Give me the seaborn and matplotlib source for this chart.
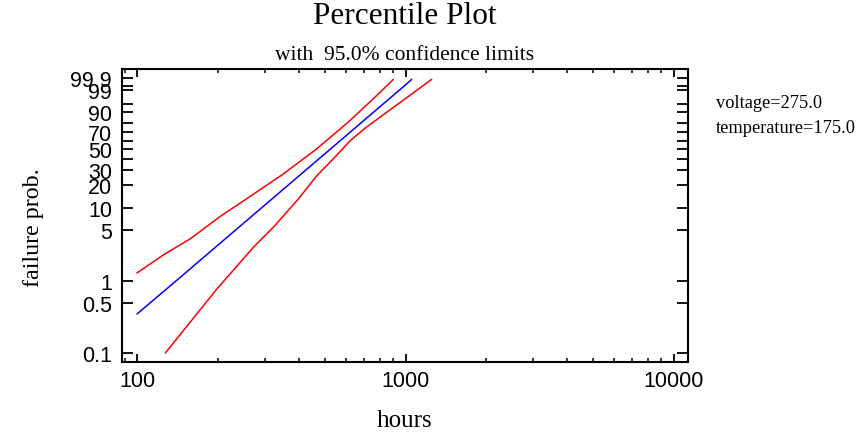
import numpy as np
import pandas as pd
import matplotlib
matplotlib.use("Agg")
import matplotlib.pyplot as plt
import seaborn as sns
from matplotlib.ticker import FixedLocator, FixedFormatter, NullFormatter, LogLocator

# ---- data (hours, failure probability in %) ----
upper_hours = [99.7, 125.0, 157.5, 203.8, 263.6, 350.7, 467, 621.4, 781, 901]
upper_pct = [1.30, 2.31, 3.84, 7.74, 14.2, 27.1, 50.7, 82.7, 98.0, 99.86]
center_hours = [99.8, 150, 200, 300, 400, 500, 700, 1000, 1054]
center_pct = [0.35, 1.27, 3.16, 11.07, 25.5, 45.1, 82.8, 99.59, 99.86]
lower_hours = [127.2, 198.1, 271.1, 321.9, 398.9, 467, 546.5, 621.4, 706.7, 826.7, 1021.6, 1252]
lower_pct = [0.10, 0.78, 2.95, 5.54, 13.2, 25.7, 42.0, 59.9, 74.5, 87.9, 97.67, 99.86]

y_ticks = [0.1, 0.5, 1, 5, 10, 20, 30, 40, 50, 60, 70, 80, 90, 95, 99, 99.5, 99.9]
y_tick_labels = ["0.1", "0.5", "1", "5", "10", "20", "30", "", "50", "", "70", "", "90", "", "99", "", "99.9"]
x_ticks = [100, 1000, 10000]
x_tick_labels = ["100", "1000", "10000"]

title = "Percentile Plot"
subtitle = "with  95.0% confidence limits"
notes = ["voltage=275.0", "temperature=175.0"]

sns.set_style("white")
plt.rcParams["font.family"] = ["Liberation Serif", "DejaVu Serif"]
plt.rcParams["text.color"] = "black"
plt.rcParams["axes.labelcolor"] = "black"
plt.rcParams["xtick.color"] = "black"
plt.rcParams["ytick.color"] = "black"

fig = plt.figure(figsize=(8.6, 4.35), dpi=100)
ax = fig.add_axes([0.1415, 0.1655, 0.6585, 0.6725])

upper = pd.DataFrame({"hours": upper_hours, "pct": upper_pct})
center = pd.DataFrame({"hours": center_hours, "pct": center_pct})
lower = pd.DataFrame({"hours": lower_hours, "pct": lower_pct})

for df, col in [(upper, "#ff0000"), (center, "#0000ff"), (lower, "#ff0000")]:
    sns.lineplot(data=df, x="hours", y="pct", color=col, linewidth=1.1,
                 sort=False, estimator=None, ax=ax)


def fwd(p):
    p = np.clip(np.asarray(p, dtype=float) / 100.0, 1e-9, 1 - 1e-12)
    return np.log(-np.log(1 - p))


def inv(w):
    return 100.0 * (1 - np.exp(-np.exp(np.asarray(w, dtype=float))))


ax.set_xscale("log")
ax.set_yscale("function", functions=(fwd, inv))
ax.set_xlim(87.5, 11300)
ax.set_ylim(0.075, 99.988)

ax.xaxis.set_major_locator(FixedLocator(x_ticks))
ax.xaxis.set_major_formatter(FixedFormatter(x_tick_labels))
ax.xaxis.set_minor_locator(LogLocator(base=10, subs=np.arange(2, 10)))
ax.xaxis.set_minor_formatter(NullFormatter())
ax.yaxis.set_major_locator(FixedLocator(y_ticks))
ax.yaxis.set_major_formatter(FixedFormatter(y_tick_labels))
ax.yaxis.set_minor_locator(FixedLocator([]))

ax.tick_params(axis="x", which="major", direction="in", length=5.5, width=1.3,
               top=True, bottom=True, pad=6, labelsize=15.5, colors="black")
ax.tick_params(axis="x", which="minor", direction="in", length=3, width=1.1,
               top=True, bottom=True, colors="black")
ax.tick_params(axis="y", which="major", direction="in", length=8, width=1.3,
               left=True, right=True, pad=7, labelsize=15.5, colors="black")
for lab in ax.get_xticklabels() + ax.get_yticklabels():
    lab.set_fontfamily(["Liberation Sans", "DejaVu Sans"])

for s in ax.spines.values():
    s.set_visible(True)
    s.set_color("black")
    s.set_linewidth(1.5)

ax.set_xlabel("")
ax.set_ylabel("")

fig.text(405 / 860, 1 - 17 / 435, title, ha="center", va="center", fontsize=22.5, color="black")
fig.text(405 / 860, 1 - 56 / 435, subtitle, ha="center", va="center", fontsize=15.5, color="black")
fig.text(716 / 860, 1 - 104 / 435, notes[0], ha="left", va="center", fontsize=13.2, color="black")
fig.text(716 / 860, 1 - 129 / 435, notes[1], ha="left", va="center", fontsize=13.2, color="black")
fig.text(405 / 860, 1 - 421 / 435, "hours", ha="center", va="center", fontsize=18, color="black")
fig.text(33 / 860, 1 - 228 / 435, "failure prob.", ha="center", va="center",
         rotation=90, fontsize=17.3, color="black")

fig.savefig("out.png", dpi=100)
